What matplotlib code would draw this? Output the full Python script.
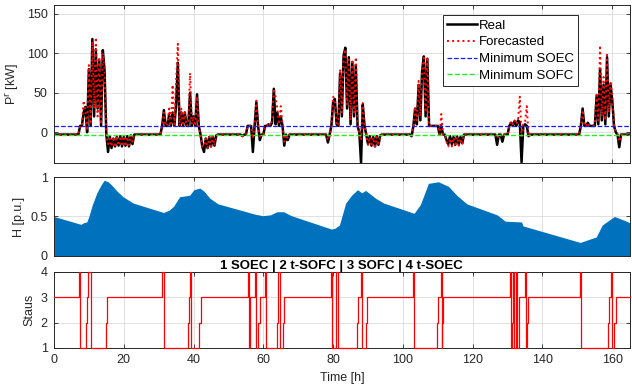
import numpy as np
import matplotlib
matplotlib.use('Agg')
import matplotlib.pyplot as plt

plt.rcParams['font.family'] = ['Liberation Sans', 'DejaVu Sans']
plt.rcParams['font.size'] = 9

# residual power, sampled every 0.5 h (one row = 10 h)
p_real = [
    -3, -3, -3, -3, -3, -3, -3, -3, -3, -3, -3, -3, -3, -3, -3, 8, 8, 25, 32, 0,
    80, 8, 118, 20, 105, 30, 90, 8, 104, 78, -3, -25, -5, -20, -8, -18, -6, -17, -5, -18,
    -6, -17, -5, -18, -4, -15, -3, -3, -3, -3, -3, -3, -3, -3, -3, -3, -3, -3, -3, -3,
    -3, -3, 8, 28, 8, 8, 22, 8, 25, 8, 35, 88, 8, 25, 8, 25, 8, 8, 50, 8,
    20, 8, 48, 8, -3, -18, -25, -8, -20, -6, -18, -5, -17, -4, -3, -3, -3, -3, -3, -3,
    -3, -3, -3, -3, -3, -3, -3, -3, -5, -3, -3, 8, 8, 8, -25, 8, 38, 8, -10, -3,
    -3, 8, 8, 10, 8, 12, 55, 10, 25, 8, 20, 8, -17, -3, -10, -3, -3, -3, -3, -3,
    -3, -3, -3, -3, -3, -3, -3, -3, -3, -3, -3, -3, -3, -3, -3, -3, -3, -13, -3, 8,
    38, 42, 10, 8, 75, 20, 97, 107, 30, 95, 10, 89, 20, 85, 8, 0, -39, 35, 8, -3,
    -15, -5, -17, -6, -18, -5, -16, -4, -3, -3, -3, -3, -3, -3, -3, -3, -3, -3, -3, -3,
    -3, -3, -3, -3, -3, -5, 8, 30, 10, 60, 15, 78, 96, 20, 93, 8, 8, 8, 8, 8,
    8, -3, 8, -3, -3, -10, -15, -5, -15, -6, -16, -5, -15, -6, -14, -3, -3, -3, -3, -3,
    -3, -3, -3, -3, -3, -3, -3, -3, -3, -3, -3, -3, -3, -3, -16, -3, -3, -12, -3, -3,
    -3, 8, 12, 8, 14, 8, 15, 12, -38, 8, 10, 8, -5, -3, -3, -3, -3, -3, -3, -3,
    -3, -3, -3, -3, -3, -3, -3, -3, -3, -3, -3, -3, -3, -3, -3, -3, -3, -3, -3, -3,
    -3, -3, 8, 30, 8, 8, 12, 8, 8, 8, 8, 45, 10, 80, 15, 60, 10, 95, 20, 60,
    40, 8, 0, -3, -19, -3, -3, -3, -3, -3, -3,
]
p_forecast = [
    -3, -3, -3, -3, -3, -3, -3, -3, -3, -3, -3, -3, -3, -3, -3, 8, 8, 40, 28, 2,
    85, 10, 115, 30, 120, 20, 95, 10, 100, 80, -3, -15, -8, -18, -6, -19, -5, -17, -8, -18,
    -5, -18, -6, -16, -4, -12, -3, -3, -3, -3, -3, -3, -3, -3, -3, -3, -3, -3, -3, -3,
    -3, -3, 8, 25, 8, 10, 30, 8, 60, 10, 65, 112, 8, 30, 8, 25, 8, 10, 75, 10,
    20, 8, 45, 8, -3, -18, -18, -8, -20, -6, -18, -5, -17, -4, -3, -3, -3, -3, -3, -3,
    -3, -3, -3, -3, -3, -3, -3, -3, -5, -3, -3, 8, 8, 8, -8, 8, 40, 8, -5, -3,
    -3, 8, 8, 12, 8, 15, 55, 45, 30, 10, 33, 8, -12, -3, -8, -3, -3, -3, -3, -3,
    -3, -3, -3, -3, -3, -3, -3, -3, -3, -3, -3, -3, -3, -3, -3, -3, -3, -10, -3, 8,
    45, 40, 12, 8, 80, 25, 95, 105, 35, 92, 15, 92, 25, 95, 8, 0, -10, 37, 8, -3,
    -16, -6, -18, -7, -18, -6, -17, -5, -3, -3, -3, -3, -3, -3, -3, -3, -3, -3, -3, -3,
    -3, -3, -3, -3, -3, -5, 8, 32, 15, 65, 20, 80, 97, 25, 95, 8, 8, 8, 8, 8,
    8, -3, 23, -3, -3, -12, -18, -8, -18, -7, -18, -6, -17, -8, -16, -3, -3, -3, -3, -3,
    -3, -3, -3, -3, -3, -3, -3, -3, -3, -3, -3, -3, -3, -3, -8, -3, -3, -6, -3, -3,
    -3, 8, 14, 10, 15, 10, 16, 45, -5, 10, 12, 33, -5, -3, -3, -3, -3, -3, -3, -3,
    -3, -3, -3, -3, -3, -3, -3, -3, -3, -3, -3, -3, -3, -3, -3, -3, -3, -3, -3, -3,
    -3, -3, 8, 28, 8, 8, 12, 8, 8, 8, 10, 50, 15, 110, 20, 70, 15, 98, 25, 65,
    45, 10, 0, -3, -12, -3, -3, -3, -3, -3, -3,
]
p_min_soec = 8
p_min_sofc = -3

# hydrogen level
h_time = [0, 7.7, 8.5, 9.4, 10, 11, 12.3, 13.5, 14.4, 15.5, 16.5, 18.1, 19.8, 22.7,
          31.4, 33, 34.3, 36, 37.5, 38.9, 40.1, 41.8, 43, 44.7, 47, 57.5, 59.8, 62,
          63.9, 65.8, 68, 79.5, 80.5, 81.8, 83.6, 85.3, 87, 88.2, 89.3, 92.2, 94.5,
          103.2, 105, 107.3, 110.2, 113.1, 115.4, 118.3, 127, 129.3, 134, 134.4,
          150.8, 155.4, 157.1, 160.6, 163.5, 165]
h_level = [0.50, 0.40, 0.42, 0.43, 0.50, 0.65, 0.80, 0.90, 0.96, 0.94, 0.90, 0.82, 0.75, 0.67,
           0.55, 0.58, 0.63, 0.75, 0.76, 0.77, 0.84, 0.86, 0.82, 0.73, 0.66, 0.53, 0.51, 0.52,
           0.56, 0.56, 0.51, 0.34, 0.35, 0.39, 0.67, 0.77, 0.84, 0.80, 0.83, 0.73, 0.67,
           0.54, 0.65, 0.92, 0.94, 0.88, 0.77, 0.66, 0.52, 0.44, 0.43, 0.38,
           0.17, 0.24, 0.39, 0.50, 0.45, 0.42]

# operating status change points
status_time = [0, 7.3, 7.6, 9.2, 9.5, 9.8, 10.5, 15.0, 15.3, 31.1, 31.4,
               38.4, 38.7, 38.9, 39.2, 41.5, 42.0,
               55.6, 56.0, 56.3, 57.5, 58.0, 58.5, 59.0, 60.6, 60.9, 63.8, 64.3, 64.8, 65.6, 65.9,
               79.5, 79.8, 80.9, 81.3, 86.8, 87.2, 87.9, 88.2, 89.4, 89.8,
               102.8, 103.2, 109.8, 110.1, 110.8, 111.1, 111.3, 111.6,
               130.6, 130.9, 131.4, 131.6, 131.9, 132.3, 132.5, 132.8, 133.2, 133.4,
               134.9, 135.2, 135.5, 135.8,
               150.7, 151.0, 158.8, 159.1, 159.5, 159.9, 160.6, 161.0, 165]
status_value = [3, 4, 1, 2, 3, 4, 1, 2, 3, 4, 1,
                2, 3, 4, 1, 2, 3,
                4, 1, 3, 4, 1, 2, 3, 4, 1, 2, 4, 1, 2, 3,
                4, 1, 4, 1, 2, 3, 4, 1, 2, 3,
                4, 1, 2, 3, 4, 1, 2, 3,
                4, 1, 2, 4, 1, 2, 4, 1, 2, 3,
                4, 1, 2, 3,
                4, 1, 2, 3, 4, 1, 2, 3, 3]

t_p = np.arange(len(p_real)) * 0.5
ink = '#262626'


def style(ax):
    ax.set_xlim(0, 165)
    ax.set_xticks(np.arange(0, 161, 20))
    ax.grid(True, color='#dcdcdc', linewidth=0.6)
    ax.set_axisbelow(True)
    ax.tick_params(direction='in', top=True, right=True, length=3, width=0.6,
                   colors=ink, labelsize=9, pad=4.5)
    for s in ax.spines.values():
        s.set_color(ink)
        s.set_linewidth(0.7)


fig = plt.figure(figsize=(6.32, 3.9), dpi=100)
ax1 = fig.add_axes([0.0854, 0.582, 0.911, 0.405])
ax2 = fig.add_axes([0.0854, 0.344, 0.911, 0.202])
ax3 = fig.add_axes([0.0854, 0.108, 0.911, 0.195])

style(ax1)
ax1.plot(t_p, p_real, color='black', linewidth=1.8, label='Real')
ax1.plot(t_p, p_forecast, color='red', linestyle=':', linewidth=1.4, label='Forecasted')
ax1.axhline(p_min_soec, color='#1a1aff', linestyle='--', linewidth=0.9, label='Minimum SOEC')
ax1.axhline(p_min_sofc, color='#22ee22', linestyle='--', linewidth=1.0, label='Minimum SOFC')
ax1.set_ylim(-39, 161)
ax1.set_yticks([0, 50, 100, 150])
ax1.set_xticklabels([])
ax1.set_ylabel('P$^{\\mathrm{r}}$ [kW]', color=ink)
leg = ax1.legend(loc='upper right', bbox_to_anchor=(0.91, 0.935), fontsize=9.5,
                 frameon=True, fancybox=False, edgecolor=ink, framealpha=1,
                 handlelength=2.3, handletextpad=0.15, labelspacing=0.35,
                 borderpad=0.3, borderaxespad=0)
leg.get_frame().set_linewidth(0.7)

style(ax2)
ax2.fill_between(h_time, h_level, 0, color='#0072BD', linewidth=0)
ax2.set_ylim(0, 1)
ax2.set_yticks([0, 0.5, 1])
ax2.set_yticklabels(['0', '0.5', '1'])
ax2.set_xticklabels([])
ax2.set_ylabel('H [p.u.]', color=ink)

style(ax3)
ax3.step(status_time, status_value, where='post', color='red', linewidth=0.9,
         clip_on=False, zorder=3)
ax3.set_ylim(1, 4)
ax3.set_yticks([1, 2, 3, 4])
ax3.set_ylabel('Staus', color=ink)
ax3.set_xlabel('Time [h]', color=ink, labelpad=4)
ax3.set_title('1 SOEC | 2 t-SOFC | 3 SOFC | 4 t-SOEC', fontsize=9.5, fontweight='bold', pad=2)

fig.align_ylabels([ax1, ax2, ax3])
fig.savefig('out.png', dpi=100)
